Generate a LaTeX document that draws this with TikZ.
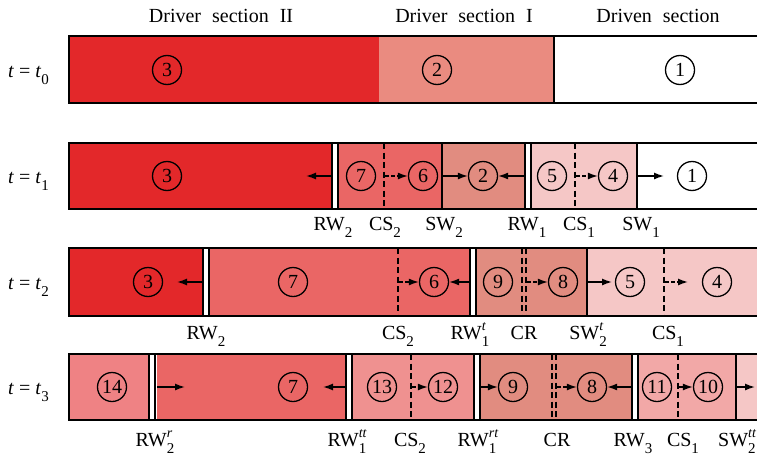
\documentclass[tikz,border=0pt]{standalone}
\usepackage{fontspec}
\setmainfont{Liberation Serif}
\usetikzlibrary{arrows.meta}
\definecolor{cA}{RGB}{227,40,42}
\definecolor{cB}{RGB}{234,139,128}
\definecolor{cC}{RGB}{234,102,101}
\definecolor{cD}{RGB}{225,140,128}
\definecolor{cE}{RGB}{245,199,198}
\definecolor{cF}{RGB}{239,130,132}
\definecolor{cG}{RGB}{239,145,144}
\definecolor{cH}{RGB}{242,168,167}
\newcommand\lsub[1]{\raisebox{-0.35em}{\fontsize{15}{15}\selectfont #1}}
\newcommand\lss[2]{\makebox[0pt][l]{\raisebox{0.42em}{\fontsize{14}{14}\selectfont\itshape #2}}\lsub{#1}}
\newcommand\dwall[3]{\fill[white] (#1-3,#2) rectangle (#1+3,#3); \draw[wl] (#1-3,#2) -- (#1-3,#3) (#1+3,#2) -- (#1+3,#3);}
\tikzset{
  fr/.style={draw=black,line width=1.5pt},
  wl/.style={draw=black,line width=1.4pt},
  sl/.style={draw=black,line width=1.3pt},
  dl/.style={draw=black,line width=1.3pt,dash pattern=on 6pt off 3.5pt},
  num/.style={circle,draw=black,line width=1.3pt,minimum size=29pt,inner sep=0pt,font=\fontsize{20}{20}\selectfont},
  arr/.style={line width=1.4pt,-{Latex[length=10pt,width=7pt]}},
  darr/.style={arr,dash pattern=on 3.5pt off 2.5pt},
  lab/.style={anchor=base,inner sep=0pt,font=\fontsize{20}{20}\selectfont},
}
\begin{document}
\begin{tikzpicture}[x=1pt,y=-1pt]
\useasboundingbox (0,0) rectangle (760,455);
% headers
\node[lab] (h1) at (221,23) {Driver\hspace{0.3em} section\hspace{0.3em} II};
\node[lab] (h2) at (464,23) {Driver\hspace{0.3em} section\hspace{0.3em} I};
\node[lab] (h3) at (658,23) {Driven\hspace{0.3em} section};
% row labels
\node[lab,anchor=base west] (t0) at (8,77) {\textit{t} = \textit{t}\lsub{0}};
\node[lab,anchor=base west] (t1) at (8,183) {\textit{t} = \textit{t}\lsub{1}};
\node[lab,anchor=base west] (t2) at (8,289) {\textit{t} = \textit{t}\lsub{2}};
\node[lab,anchor=base west] (t3) at (8,394) {\textit{t} = \textit{t}\lsub{3}};

% ===== Row 0 =====
\fill[cA] (69,36) rectangle (379,103);
\fill[cB] (379,36) rectangle (554,103);
\draw[sl] (554,36) -- (554,103);
\draw[fr] (757,36) -- (69,36) -- (69,103) -- (757,103);
\node[num] (a3) at (167,70) {3};
\node[num] (a2) at (437,70) {2};
\node[num] (a1) at (680,70) {1};

% ===== Row 1 =====
\fill[cA] (69,143) rectangle (332,209);
\fill[cC] (338,143) rectangle (442,209);
\fill[cD] (442,143) rectangle (525,209);
\fill[cE] (531,143) rectangle (637,209);
\draw[dl] (384,143) -- (384,209) (575,143) -- (575,209);
\draw[sl] (442,143) -- (442,209) (637,143) -- (637,209);
\dwall{335}{143}{209}
\dwall{528}{143}{209}
\draw[fr] (757,143) -- (69,143) -- (69,209) -- (757,209);
\node[num] (b3) at (167,176) {3};
\node[num] (b7) at (361,176) {7};
\node[num] (b6) at (423,176) {6};
\node[num] (b2) at (483,176) {2};
\node[num] (b5) at (552,176) {5};
\node[num] (b4) at (613,176) {4};
\node[num] (b1) at (692,176) {1};
\coordinate (bRW2) at (332,176); \coordinate (bRW2e) at (306,176);
\coordinate (bCS2) at (385,176);
\coordinate (bSW2) at (442,176);
\coordinate (bRW1) at (525,176);
\coordinate (bCS1) at (576,176);
\coordinate (bSW1) at (637,176); \coordinate (bSW1e) at (664,176);
\draw[arr] (bRW2) -- (bRW2e);
\draw[darr] (bCS2) -- (b6.west);
\draw[arr] (bSW2) -- (b2.west);
\draw[arr] (bRW1) -- (b2.east);
\draw[darr] (bCS1) -- (b4.west);
\draw[arr] (bSW1) -- (bSW1e);
\node[lab] (lb1) at (333,230) {RW\lsub{2}};
\node[lab] (lb2) at (385,230) {CS\lsub{2}};
\node[lab] (lb3) at (444,230) {SW\lsub{2}};
\node[lab] (lb4) at (527,230) {RW\lsub{1}};
\node[lab] (lb5) at (579,230) {CS\lsub{1}};
\node[lab] (lb6) at (641,230) {SW\lsub{1}};

% ===== Row 2 =====
\fill[cA] (69,248) rectangle (202,316);
\fill[cC] (210,248) rectangle (469,316);
\fill[cD] (477,248) rectangle (587,316);
\fill[cE] (587,248) rectangle (757,316);
\draw[dl] (398,248) -- (398,316) (664,248) -- (664,316);
\draw[dl] (522,248) -- (522,316) (526,248) -- (526,316);
\draw[sl] (587,248) -- (587,316);
\dwall{206}{248}{316}
\dwall{473}{248}{316}
\draw[fr] (757,248) -- (69,248) -- (69,316) -- (757,316);
\node[num] (c3) at (148,282) {3};
\node[num] (c7) at (293,282) {7};
\node[num] (c6) at (434,282) {6};
\node[num] (c9) at (498,282) {9};
\node[num] (c8) at (563,282) {8};
\node[num] (c5) at (630,282) {5};
\node[num] (c4) at (717,282) {4};
\coordinate (cRW2) at (202,282); \coordinate (cRW2e) at (177,282);
\coordinate (cCS2) at (399,282);
\coordinate (cRW1) at (469,282);
\coordinate (cCR) at (527,282);
\coordinate (cSW2) at (587,282); \coordinate (cSW2e) at (612,282);
\coordinate (cCS1) at (665,282); \coordinate (cCS1e) at (688,282);
\draw[arr] (cRW2) -- (cRW2e);
\draw[darr] (cCS2) -- (c6.west);
\draw[arr] (cRW1) -- (c6.east);
\draw[darr] (cCR) -- (c8.west);
\draw[arr] (cSW2) -- (cSW2e);
\draw[darr] (cCS1) -- (cCS1e);
\node[lab] (lc1) at (206,339) {RW\lsub{2}};
\node[lab] (lc2) at (398,339) {CS\lsub{2}};
\node[lab] (lc3) at (470,339) {RW\lss{1}{t}};
\node[lab] (lc4) at (524,339) {CR};
\node[lab] (lc5) at (588,339) {SW\lss{2}{t}};
\node[lab] (lc6) at (668,339) {CS\lsub{1}};

% ===== Row 3 =====
\fill[cF] (69,354) rectangle (148,420);
\fill[cC] (157,354) rectangle (345,420);
\fill[cG] (353,354) rectangle (473,420);
\fill[cD] (481,354) rectangle (632,420);
\fill[cH] (638,354) rectangle (736,420);
\fill[cE] (736,354) rectangle (757,420);
\draw[dl] (411,354) -- (411,420) (678,354) -- (678,420);
\draw[dl] (552,354) -- (552,420) (556,354) -- (556,420);
\draw[sl] (736,354) -- (736,420);
\dwall{152}{354}{420}
\dwall{349}{354}{420}
\dwall{477}{354}{420}
\dwall{635}{354}{420}
\draw[fr] (757,354) -- (69,354) -- (69,420) -- (757,420);
\node[num] (d14) at (112,387) {14};
\node[num] (d7) at (293,387) {7};
\node[num] (d13) at (382,387) {13};
\node[num] (d12) at (443,387) {12};
\node[num] (d9) at (513,387) {9};
\node[num] (d8) at (592,387) {8};
\node[num] (d11) at (657,387) {11};
\node[num] (d10) at (708,387) {10};
\coordinate (dRW2) at (157,387); \coordinate (dRW2e) at (185,387);
\coordinate (dRW1a) at (345,387); \coordinate (dRW1ae) at (323,387);
\coordinate (dCS2) at (412,387);
\coordinate (dRW1b) at (481,387);
\coordinate (dCR) at (557,387);
\coordinate (dRW3) at (632,387);
\coordinate (dCS1) at (679,387);
\coordinate (dSW2) at (736,387); \coordinate (dSW2e) at (755,387);
\draw[arr] (dRW2) -- (dRW2e);
\draw[arr] (dRW1a) -- (dRW1ae);
\draw[darr] (dCS2) -- (d12.west);
\draw[arr] (dRW1b) -- (d9.west);
\draw[darr] (dCR) -- (d8.west);
\draw[arr] (dRW3) -- (d8.east);
\draw[darr] (dCS1) -- (d10.west);
\draw[arr] (dSW2) -- (dSW2e);
\node[lab] (ld1) at (155,446) {RW\lss{2}{r}};
\node[lab] (ld2) at (347,446) {RW\lss{1}{tt}};
\node[lab] (ld3) at (410,446) {CS\lsub{2}};
\node[lab] (ld4) at (477,446) {RW\lss{1}{rt}};
\node[lab] (ld5) at (557,446) {CR};
\node[lab] (ld6) at (633,446) {RW\lsub{3}};
\node[lab] (ld7) at (683,446) {CS\lsub{1}};
\node[lab,anchor=base west] (ld8) at (718,446) {SW\lss{2}{tt}};
\end{tikzpicture}
\end{document}
